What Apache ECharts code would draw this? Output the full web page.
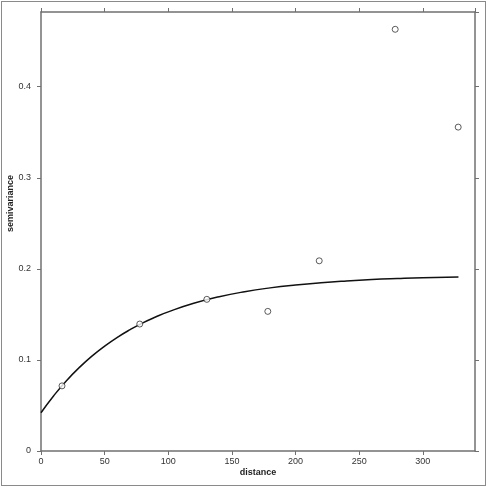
<!DOCTYPE html>
<html>
<head>
<meta charset="utf-8">
<script src="https://cdn.jsdelivr.net/npm/echarts@6/dist/echarts.min.js"></script>
<style>
  html, body { margin: 0; padding: 0; background: #fff; }
  #frame { position: absolute; left: 1px; top: 1px; width: 483px; height: 483px; border: 1px solid #8a8a8a; }
  #main { width: 487px; height: 487px; }
</style>
</head>
<body>
<div id="frame"></div>
<div id="main"></div>
<script>
// empirical semivariogram points [distance, semivariance]
const empirical = [
  [16.5, 0.0715], [77.6, 0.1394], [130.3, 0.1665], [178.2, 0.1533],
  [218.6, 0.2088], [278.3, 0.463], [327.8, 0.3556]
]
// fitted model curve
const modelDist = [0, 10, 20, 30, 40, 50, 60, 70, 80, 90, 100, 120, 140, 160, 180, 200, 220, 240, 260, 280, 300, 328]
const modelGamma = [0.042, 0.0607, 0.0772, 0.0915, 0.1041, 0.1151, 0.1248, 0.1332, 0.1407, 0.1471, 0.1528,
  0.1622, 0.1694, 0.1749, 0.1791, 0.1823, 0.1848, 0.1867, 0.1882, 0.1893, 0.1902, 0.191]
const xTicks = [0, 50, 100, 150, 200, 250, 300]
const yTicks = [0, 0.1, 0.2, 0.3, 0.4]

const chart = echarts.init(document.getElementById('main'))

const axisLine = { onZero: false, lineStyle: { color: '#707070', width: 1.5 } }
const tick = { length: 4, lineStyle: { color: '#707070' } }
const font = 'Liberation Sans, Arial, sans-serif'

const option = {
  animation: false,
  grid: { left: 41, right: 12, top: 12, bottom: 36, containLabel: false, outerBoundsMode: 'none' },
  xAxis: [
    {
      type: 'value', min: 0, max: 341, interval: 50, position: 'bottom',
      name: 'distance', nameLocation: 'middle', nameGap: 17, nameMoveOverlap: false,
      nameTextStyle: { fontFamily: font, fontWeight: 'bold', fontSize: 9, color: '#222' },
      axisLine: axisLine, axisTick: tick, splitLine: { show: false },
      axisLabel: {
        fontFamily: font, fontSize: 9, color: '#333', margin: 6, showMaxLabel: false,
        formatter: v => xTicks.includes(v) ? String(v) : ''
      }
    },
    {
      type: 'value', min: 0, max: 341, interval: 50, position: 'top',
      axisLine: axisLine, axisTick: tick, axisLabel: { show: false }, splitLine: { show: false }
    }
  ],
  yAxis: [
    {
      type: 'value', min: 0, max: 0.482, interval: 0.1, position: 'left',
      name: 'semivariance', nameLocation: 'middle', nameGap: 26, nameRotate: 90, nameMoveOverlap: false,
      nameTextStyle: { fontFamily: font, fontWeight: 'bold', fontSize: 9, color: '#222', padding: [0, 0, 0, 56] },
      axisLine: axisLine, axisTick: tick, splitLine: { show: false },
      axisLabel: {
        fontFamily: font, fontSize: 9, color: '#333', margin: 10, showMaxLabel: false,
        formatter: v => {
          const t = yTicks.find(y => Math.abs(y - v) < 1e-9)
          return t === undefined ? '' : (t === 0 ? '0' : t.toFixed(1))
        }
      }
    },
    {
      type: 'value', min: 0, max: 0.482, interval: 0.1, position: 'right',
      axisLine: axisLine, axisTick: tick, axisLabel: { show: false }, splitLine: { show: false }
    }
  ],
  series: [
    {
      type: 'line',
      data: modelDist.map((d, i) => [d, modelGamma[i]]),
      smooth: true,
      showSymbol: false,
      lineStyle: { color: '#111', width: 1.5 }
    },
    {
      type: 'scatter',
      data: empirical,
      symbol: 'circle',
      symbolSize: 6,
      itemStyle: { color: '#fff', borderColor: '#333', borderWidth: 1 },
      z: 3
    }
  ]
}

chart.setOption(option)
</script>
</body>
</html>
